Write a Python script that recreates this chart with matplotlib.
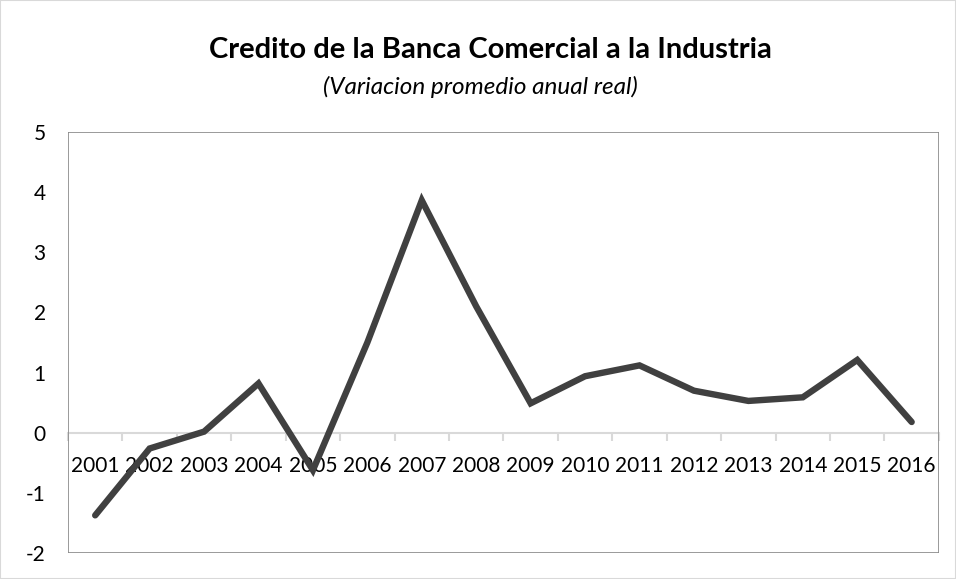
import matplotlib.pyplot as plt
from matplotlib.patches import Rectangle

years = ["2001", "2002", "2003", "2004", "2005", "2006", "2007", "2008",
         "2009", "2010", "2011", "2012", "2013", "2014", "2015", "2016"]
variacion = [-1.37, -0.26, 0.02, 0.82, -0.62, 1.5, 3.86, 2.1,
             0.49, 0.94, 1.12, 0.70, 0.53, 0.59, 1.21, 0.18]
yticks = [-2, -1, 0, 1, 2, 3, 4, 5]

plt.rcParams["font.family"] = ["Lato", "DejaVu Sans"]

fig = plt.figure(figsize=(9.56, 5.79), dpi=100)
ax = fig.add_axes([0.0711, 0.0444, 0.911, 0.7281])

x = list(range(len(years)))
ax.plot(x, variacion, color="#404040", linewidth=4.6,
        solid_capstyle="round", solid_joinstyle="miter", zorder=3)

ax.set_xlim(-0.5, len(years) - 0.5)
ax.set_ylim(-2, 5)

# marco del area de trazado
for s in ax.spines.values():
    s.set_visible(False)
ax.add_patch(Rectangle((0, 0), 1, 1, transform=ax.transAxes, fill=False,
                       edgecolor="#898989", linewidth=1.2, zorder=4))

# eje x en cero
ax.spines["bottom"].set_visible(True)
ax.spines["bottom"].set_position(("data", 0))
ax.spines["bottom"].set_color("#d9d9d9")
ax.spines["bottom"].set_linewidth(1.5)
ax.set_xticks([i - 0.5 for i in range(len(years) + 1)])
ax.set_xticklabels([])
ax.tick_params(axis="x", which="major", length=6, width=1.5, color="#d9d9d9",
               direction="out")
ax.set_xticks(x, minor=True)
ax.set_xticklabels(years, minor=True, fontsize=15, color="#000000")
ax.tick_params(axis="x", which="minor", length=0, pad=17)

ax.set_yticks(yticks)
ax.set_yticklabels([str(v) for v in yticks], fontsize=15)
ax.tick_params(axis="y", length=0, pad=16)

fig.text(0.513, 0.913, "Credito de la Banca Comercial a la Industria",
         ha="center", va="center", fontsize=21, fontweight="bold")
fig.text(0.502, 0.849, "(Variacion promedio anual real)",
         ha="center", va="center", fontsize=17.5, fontstyle="italic")

fig.patches.append(Rectangle((0, 0), 1, 1, transform=fig.transFigure,
                             fill=False, edgecolor="#d9d9d9", linewidth=1.5))

fig.savefig("out.png", dpi=100)
